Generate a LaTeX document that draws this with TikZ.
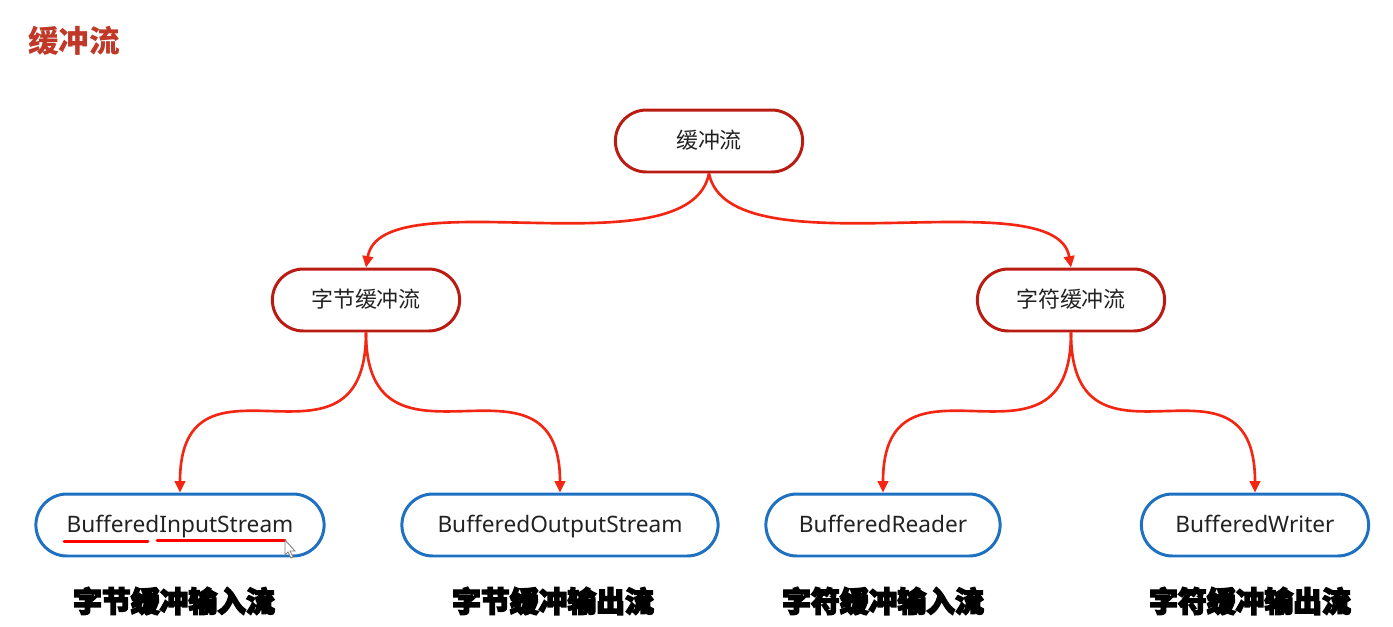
\documentclass[tikz,border=0pt]{standalone}
\usepackage{fontspec}
\setmainfont{Noto Sans}
\newfontfamily\cjk{Noto Sans CJK SC}
\newfontfamily\cjkheavy[BoldFeatures={FakeBold=5}]{Noto Sans CJK SC}
\usetikzlibrary{shapes.misc,arrows.meta}
\definecolor{titlered}{RGB}{192,56,40}
\definecolor{boxred}{RGB}{185,28,18}
\definecolor{arrred}{RGB}{242,38,18}
\definecolor{boxblue}{RGB}{30,112,192}
\definecolor{txt}{RGB}{34,34,34}
\tikzset{
  redbox/.style={rounded rectangle, draw=boxred, line width=1.7pt, minimum height=1.24cm, text height=10.5pt, text depth=2pt, text=txt, font=\cjk\fontsize{12.5}{14}\selectfont},
  bluebox/.style={rounded rectangle, draw=boxblue, line width=1.7pt, minimum height=1.24cm, text height=11pt, text depth=2pt, text=txt, font=\fontsize{12.9}{14}\selectfont},
  flow/.style={draw=arrred, line width=1.5pt, -{Triangle[length=6.5pt,width=6pt]}},
  lbl/.style={font=\cjkheavy\bfseries\fontsize{16.4}{18}\selectfont, text=black},
  uline/.style={draw=red, line width=1.7pt, line cap=round}
}
\begin{document}
\begin{tikzpicture}[x=0.02cm,y=-0.02cm]
\useasboundingbox (0,0) rectangle (1393,626);
\node[font=\cjk\bfseries\fontsize{17.4}{20}\selectfont, text=titlered] (title) at (74,41) {缓冲流};
\node[redbox, minimum width=3.98cm] (root) at (709,141) {缓冲流};
\node[redbox, minimum width=3.98cm] (l) at (366,300) {字节缓冲流};
\node[redbox, minimum width=3.98cm] (r) at (1071,300) {字符缓冲流};
\node[bluebox, minimum width=6.0cm] (a) at (180,525) {BufferedInputStream};
\node[bluebox, minimum width=6.56cm] (b) at (560,525) {BufferedOutputStream};
\node[bluebox, minimum width=4.92cm] (c) at (883,525) {BufferedReader};
\node[bluebox, minimum width=4.78cm] (d) at (1255,525) {BufferedWriter};
\node[lbl] (la) at (174,601) {字节缓冲输入流};
\node[lbl] (lb) at (553,601) {字节缓冲输出流};
\node[lbl] (lc) at (883,601) {字符缓冲输入流};
\node[lbl] (ld) at (1250,601) {字符缓冲输出流};
\draw[flow] (root.south) .. controls +(-20,100) and +(15,-90) .. (l.north);
\draw[flow] (root.south) .. controls +(20,100) and +(-15,-90) .. (r.north);
\draw[flow] (l.south) .. controls (l.south |- a.north) and (a.north |- l.south) .. (a.north);
\draw[flow] (l.south) .. controls (l.south |- b.north) and (b.north |- l.south) .. (b.north);
\draw[flow] (r.south) .. controls (r.south |- c.north) and (c.north |- r.south) .. (c.north);
\draw[flow] (r.south) .. controls (r.south |- d.north) and (d.north |- r.south) .. (d.north);
\coordinate (u1) at (64,541); \coordinate (u2) at (148,541);
\coordinate (u3) at (157,540); \coordinate (u4) at (285,540);
\draw[uline] (u1) -- (u2);
\draw[uline] (u3) -- (u4);
\draw[fill=white, draw=gray, line width=0.5pt] (285,540) -- (285,555) -- (288,552) -- (291,558) -- (293,557) -- (290,551) -- (295,551) -- cycle;
\end{tikzpicture}
\end{document}
